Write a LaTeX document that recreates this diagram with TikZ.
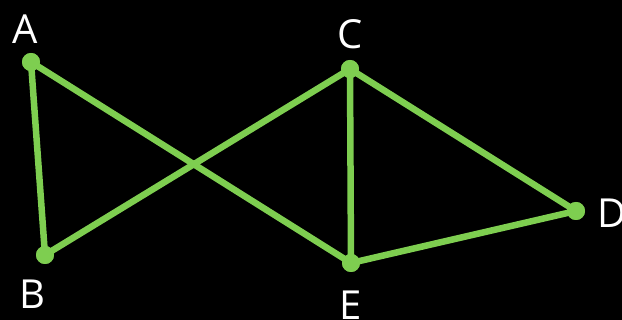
\documentclass[tikz,border=0pt]{standalone}
\usepackage{fontspec}
\setmainfont{Open Sans}
\definecolor{lg}{RGB}{126,206,80}
\begin{document}
\begin{tikzpicture}[x=1pt,y=-1pt,
  vtx/.style={circle,fill=lg,inner sep=0pt,minimum size=18pt},
  lbl/.style={text=white,font=\fontsize{40}{44}\selectfont,inner sep=0pt},
  edge/.style={draw=lg,line width=6.5pt}]
\fill[black] (0,0) rectangle (622,320);
\useasboundingbox (0,0) rectangle (622,320);
\node[vtx] (A) at (31,62) {};
\node[vtx] (B) at (45,255) {};
\node[vtx] (C) at (350,69) {};
\node[vtx] (D) at (576,211) {};
\node[vtx] (E) at (351,263) {};
\node[lbl] (lA) at (25,29) {A};
\node[lbl] (lB) at (32,294) {B};
\node[lbl] (lC) at (350,34) {C};
\node[lbl] (lD) at (612,213) {D};
\node[lbl] (lE) at (351,305) {E};
\draw[edge] (A.center) -- (B.center);
\draw[edge] (A.center) -- (E.center);
\draw[edge] (B.center) -- (C.center);
\draw[edge] (C.center) -- (E.center);
\draw[edge] (C.center) -- (D.center);
\draw[edge] (E.center) -- (D.center);
\foreach \n in {A,B,C,D,E} \fill[lg] (\n) circle (9);
\end{tikzpicture}
\end{document}
